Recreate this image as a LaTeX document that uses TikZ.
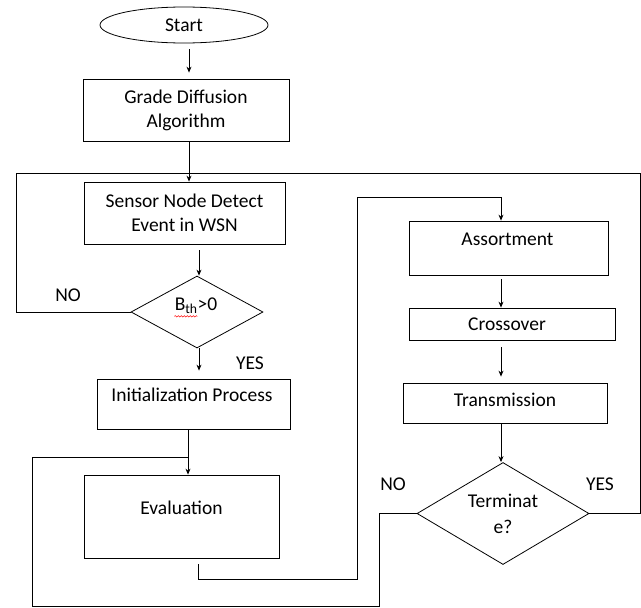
\documentclass[tikz,border=0pt]{standalone}
\usepackage{fontspec}
\setmainfont{Carlito}
\usetikzlibrary{arrows.meta,shapes.geometric,calc,decorations.pathmorphing}
\begin{document}
\begin{tikzpicture}[x=1pt,y=-1pt,
  line width=0.8pt,
  every node/.style={font=\fontsize{19.5}{24}\selectfont, text=black},
  box/.style={draw, rectangle, inner sep=0pt, align=center},
  dia/.style={draw, diamond, inner sep=0pt},
  arr/.style={-{Stealth[length=6pt,width=5pt]}},
  txt/.style={inner sep=0pt, align=center},
]
\useasboundingbox (0,0) rectangle (641,608);
% nodes
\node[draw, ellipse, inner sep=0pt, minimum width=168pt, minimum height=36pt] (start) at (184,25) {Start};
\node[box, minimum width=206pt, minimum height=62pt] (grade) at (186,110) {Grade Diffusion\\Algorithm};
\node[box, minimum width=201pt, minimum height=62pt] (sensor) at (184.5,213) {Sensor Node Detect\\Event in WSN};
\node[dia, minimum width=132pt, minimum height=72pt] (bth) at (197,312) {};
\node[txt] (bthT) at (196,306) {B\textsubscript{th}>0};
\node[box, minimum width=193pt, minimum height=50pt] (init) at (193.5,404) {};
\node[txt] (initT) at (192,395) {Initialization Process};
\node[box, minimum width=195pt, minimum height=83pt] (eval) at (181.5,516.5) {};
\node[txt] (evalT) at (181.5,508) {Evaluation};
\node[box, minimum width=199pt, minimum height=54pt] (assort) at (508.5,248) {};
\node[txt] (assortT) at (507.5,239) {Assortment};
\node[box, minimum width=206pt, minimum height=32pt] (cross) at (512,324) {};
\node[txt] (crossT) at (507,324) {Crossover};
\node[box, minimum width=204pt, minimum height=40pt] (trans) at (505,403) {};
\node[txt] (transT) at (505,400) {Transmission};
\node[dia, minimum width=172pt, minimum height=102pt] (term) at (503,513.5) {};
\node[txt, font=\fontsize{19.5}{26}\selectfont] (termT) at (503,514) {Terminat\\e?};
% labels
\node[txt] (no1) at (68,295) {NO};
\node[txt] (yes1) at (250,363) {YES};
\node[txt] (no2) at (393,484) {NO};
\node[txt] (yes2) at (600,484) {YES};
% spell-check squiggle
\draw[red, line width=0.5pt, decorate, decoration={snake, amplitude=0.7pt, segment length=3pt}]
  ($(bthT.south west)+(0,2)$) -- ($(bthT.south west)+(23,2)$);
% coordinates
\coordinate (tl) at (16,173);
\coordinate (tr) at (640,173);
\coordinate (jm) at (188,457);
\coordinate (bl) at (32,606);
\coordinate (nb) at (379,606);
\coordinate (ev1) at (198,564);
\coordinate (ev2) at (357,579);
\coordinate (ab) at (501,197);
% connectors
\draw[arr] ($(start.south)+(5,6)$) -- ($(start.south |- grade.north)+(5,-6)$);
\draw[arr] ($(grade.south)+(3,0)$) -- ($(grade.south |- sensor.north)+(3,0)$);
\draw (bth.west) -| (tl) -- (tr) |- (term.east);
\draw[arr] ($(bth.north |- sensor.south)+(2,6)$) -- ($(bth.north)+(2,0)$);
\draw[arr] ($(bth.south)+(2,0)$) -- ($(bth.south |- init.north)+(2,-8)$);
\draw (init.south -| jm) -- (jm);
\draw[arr] (jm) -- (jm |- eval.north);
\draw (term.west) -| (nb) -- (bl) |- (jm);
\draw[arr] (ev1) |- (ev2) |- (ab) -- (ab |- assort.north);
\draw[arr, shorten <=4pt] (ab |- assort.south) -- (ab |- cross.north);
\draw[arr, shorten <=7pt, shorten >=6pt] (ab |- cross.south) -- (ab |- trans.north);
\draw[arr] (ab |- trans.south) -- (ab |- term.north);
\end{tikzpicture}
\end{document}
